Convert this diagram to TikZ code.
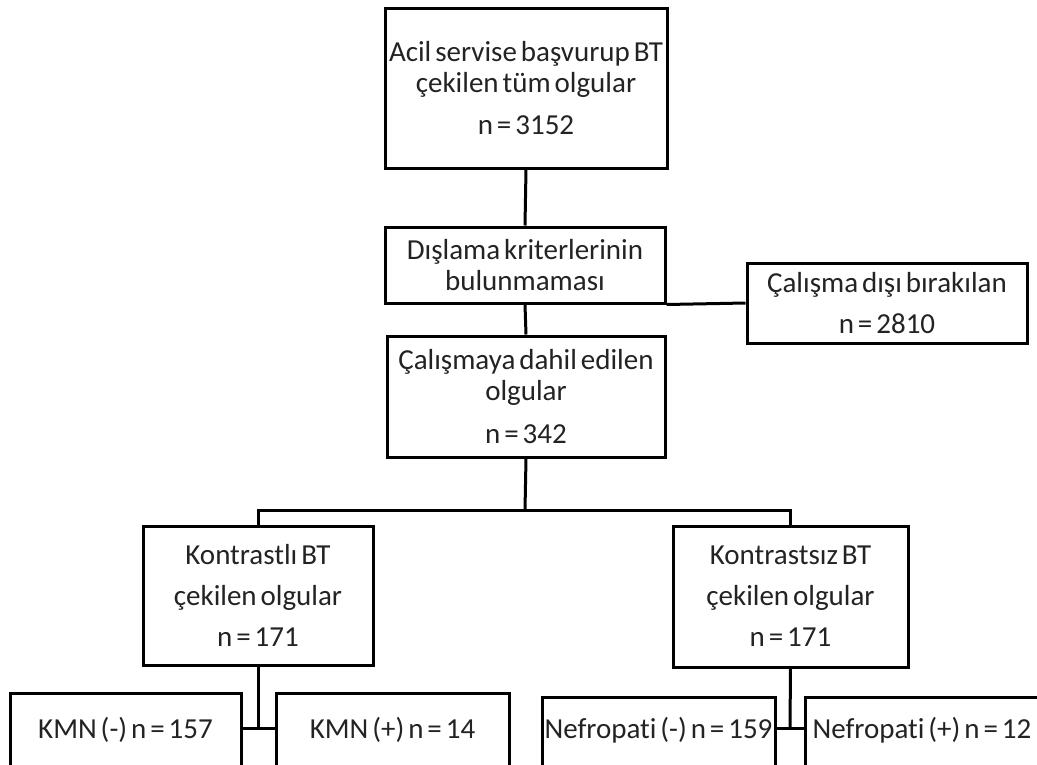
\documentclass[tikz,border=0pt]{standalone}
\usepackage{fontspec}
\setmainfont{Carlito}[WordSpace=0.6, Ligatures={NoCommon}]
\definecolor{txt}{RGB}{35,35,35}
\begin{document}
\begin{tikzpicture}[x=1pt,y=-1pt,
  box/.style={draw=black, line width=3pt, inner sep=0pt, align=center, text=txt,
    font=\fontsize{29}{31}\selectfont},
  bbox/.style={box, anchor=north, text depth=40pt},
  conn/.style={draw=black, line width=3pt}]
\useasboundingbox (0,0) rectangle (1037,764);
\clip (0,0) rectangle (1037,764);
\fill[white] (0,0) rectangle (1037,764);

\node[box, minimum width=282pt, minimum height=160pt] (b1) at (526,88)
  {Acil servise başvurup BT\\ çekilen tüm olgular\\[11pt] n = 3152};
\node[box, minimum width=280pt, minimum height=76pt] (b2) at (525,265)
  {Dışlama kriterlerinin\\ bulunmaması};
\node[box, minimum width=280pt, minimum height=80pt] (ex) at (887,303)
  {Çalışma dışı bırakılan\\[10pt] n = 2810};
\node[box, minimum width=278pt, minimum height=121pt] (b3) at (526,396.5)
  {Çalışmaya dahil edilen\\ olgular\\[12pt] n = 342};
\node[box, minimum width=230pt, minimum height=139pt] (kl) at (258,595.5)
  {Kontrastlı BT\\[10pt] çekilen olgular\\[10pt] n = 171};
\node[box, minimum width=235pt, minimum height=141pt] (ks) at (790.5,596.5)
  {Kontrastsız BT\\[10pt] çekilen olgular\\[10pt] n = 171};

\node[bbox, text height=45pt, minimum width=231pt] (km1) at (125.5,692) {KMN (-) n = 157};
\node[bbox, text height=45pt, minimum width=233pt] (km2) at (392.5,692) {KMN (+) n = 14};
\node[bbox, text height=41pt, minimum width=233pt] (n1) at (658.5,696) {Nefropati (-) n = 159};
\node[bbox, text height=41pt, minimum width=234pt] (n2) at (922,696) {Nefropati (+) n = 12};

\coordinate (s) at (525,510);
\coordinate (j1) at (258,728);
\coordinate (j2) at (790,728);

\draw[conn] (b1.south) -- (b2.north);
\draw[conn] (b2.south) -- (b3.north);
\draw[conn] (b2.south east) -- (ex.west);
\draw[conn] (b3.south) -- (s);
\draw[conn] (kl.north) |- (s) -| (ks.north);
\draw[conn] (kl.south) -- (j1);
\draw[conn] (km1.east |- j1) -- (km2.west |- j1);
\draw[conn] (ks.south) -- (j2);
\draw[conn] (n1.east |- j2) -- (n2.west |- j2);
\end{tikzpicture}
\end{document}
